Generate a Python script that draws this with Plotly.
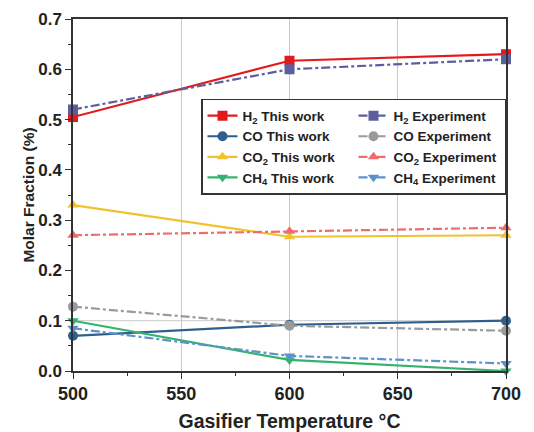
import plotly.graph_objects as go

temps = [500, 600, 700]
h2_work = [0.505, 0.617, 0.630]
h2_exp = [0.520, 0.600, 0.620]
co_work = [0.070, 0.092, 0.100]
co_exp = [0.128, 0.090, 0.080]
co2_work = [0.330, 0.267, 0.270]
co2_exp = [0.270, 0.278, 0.285]
ch4_work = [0.100, 0.022, 0.000]
ch4_exp = [0.085, 0.030, 0.015]

series = [
    ("H<sub>2</sub> This work", h2_work, "#e31a1c", "square", "solid"),
    ("H<sub>2</sub> Experiment", h2_exp, "#5b5f9e", "square", "dashdot"),
    ("CO This work", co_work, "#2f5f8f", "circle", "solid"),
    ("CO Experiment", co_exp, "#9a9a9a", "circle", "dashdot"),
    ("CO<sub>2</sub> This work", co2_work, "#f2c12e", "triangle-up", "solid"),
    ("CO<sub>2</sub> Experiment", co2_exp, "#f26b6b", "triangle-up", "dashdot"),
    ("CH<sub>4</sub> This work", ch4_work, "#35b36e", "triangle-down", "solid"),
    ("CH<sub>4</sub> Experiment", ch4_exp, "#5b93c9", "triangle-down", "dashdot"),
]

fig = go.Figure()
for name, vals, color, sym, dash in series:
    fig.add_trace(go.Scatter(
        x=temps, y=vals, name=name, mode="lines+markers",
        line=dict(color=color, width=2.2, dash=dash),
        marker=dict(symbol=sym, size=10, color=color),
        cliponaxis=False,
    ))

fig.add_shape(type="line", xref="x", yref="y", x0=500, x1=700, y0=0.1, y1=0.1,
              line=dict(color="#c8c8c8", width=1), layer="below")

font_family = "Liberation Sans, Arial, sans-serif"
fig.update_layout(
    width=526, height=424,
    margin=dict(l=65, r=28, t=11, b=61),
    paper_bgcolor="white", plot_bgcolor="white",
    font=dict(family=font_family, color="#222222"),
    showlegend=True,
    legend=dict(
        orientation="h",
        x=1.0, y=0.773, xanchor="right", yanchor="top",
        entrywidth=106, entrywidthmode="pixels",
        bgcolor="white", bordercolor="#333333", borderwidth=1.5,
        font=dict(size=13.5, family=font_family, color="#222222", weight="bold"),
        tracegroupgap=0, itemwidth=30,
    ),
    xaxis=dict(
        range=[500, 700], tickvals=[500, 550, 600, 650, 700],
        automargin=False, ticklabeloverflow="allow",
        showgrid=True, gridcolor="#c8c8c8", gridwidth=1,
        showline=True, linecolor="#333333", linewidth=1.5, mirror=True,
        ticks="outside", ticklen=6, tickcolor="#333333",
        minor=dict(ticks="outside", ticklen=3, dtick=25, tick0=500, tickcolor="#333333", showgrid=False),
        tickfont=dict(size=18, weight="bold", color="#222222"),
        title=dict(text="Gasifier Temperature °C", font=dict(size=19.5, weight="bold", color="#222222"), standoff=13),
        zeroline=False,
    ),
    yaxis=dict(
        range=[0, 0.7], tickvals=[0, 0.1, 0.2, 0.3, 0.4, 0.5, 0.6, 0.7],
        ticktext=["0.0", "0.1", "0.2", "0.3", "0.4", "0.5", "0.6", "0.7"],
        automargin=False, ticklabeloverflow="allow",
        showgrid=False,
        showline=True, linecolor="#333333", linewidth=1.5, mirror=True,
        ticks="outside", ticklen=6, tickcolor="#333333",
        minor=dict(ticks="outside", ticklen=3, dtick=0.05, tick0=0, tickcolor="#333333", showgrid=False),
        tickfont=dict(size=17, weight="bold", color="#222222"),
        title=dict(text="Molar Fraction (%)", font=dict(size=15.5, weight="bold", color="#222222"), standoff=0),
        zeroline=False,
    ),
)

fig.write_html("out.html")
